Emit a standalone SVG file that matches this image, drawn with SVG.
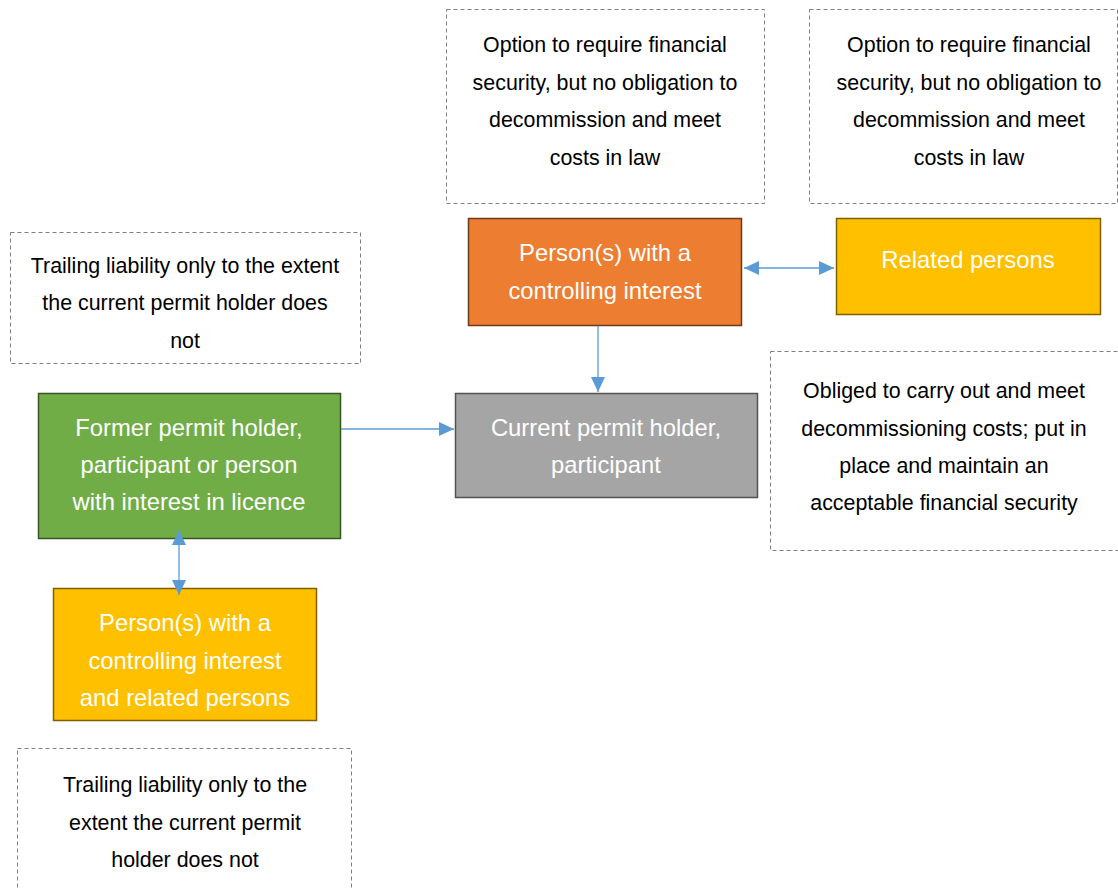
<svg xmlns="http://www.w3.org/2000/svg" width="1118" height="889" viewBox="0 0 1118 889">
  <style>
    .note { fill: #ffffff; stroke: #7f7f7f; stroke-width: 1; stroke-dasharray: 4 3; }
    .ntext { font-family: "Liberation Sans", Arial, sans-serif; font-size: 21.4px; fill: #000000; text-anchor: middle; }
    .btext { font-family: "Liberation Sans", Arial, sans-serif; font-size: 23.8px; fill: #ffffff; text-anchor: middle; }
    .conn { stroke: #5b9bd5; stroke-width: 1.3; fill: none; }
  </style>
  <defs>
    <marker id="arrow" markerUnits="userSpaceOnUse" markerWidth="16" markerHeight="14" refX="15" refY="7" orient="auto-start-reverse">
      <path d="M0,0 L15,7 L0,14 Z" fill="#5b9bd5"/>
    </marker>
  </defs>
  <rect width="1118" height="889" fill="#ffffff"/>

  <g id="note-option-1">
    <rect class="note" x="446.5" y="9.5" width="318" height="194"/>
    <text class="ntext" x="605" y="52">Option to require financial</text>
    <text class="ntext" x="605" y="90">security, but no obligation to</text>
    <text class="ntext" x="605" y="127">decommission and meet</text>
    <text class="ntext" x="605" y="165">costs in law</text>
  </g>

  <g id="note-option-2">
    <rect class="note" x="809.5" y="9.5" width="308" height="194"/>
    <text class="ntext" x="969" y="52">Option to require financial</text>
    <text class="ntext" x="969" y="90">security, but no obligation to</text>
    <text class="ntext" x="969" y="127">decommission and meet</text>
    <text class="ntext" x="969" y="165">costs in law</text>
  </g>

  <g id="controlling-interest">
    <rect x="468.5" y="218.5" width="273" height="107" fill="#ed7d31" stroke="#6b3a1c" stroke-width="1.5"/>
    <text class="btext" x="605" y="261">Person(s) with a</text>
    <text class="btext" x="605" y="299">controlling interest</text>
  </g>

  <g id="related-persons">
    <rect x="836.5" y="218.5" width="264" height="96" fill="#ffc000" stroke="#7f6000" stroke-width="1.5"/>
    <text class="btext" x="968" y="268">Related persons</text>
  </g>

  <g id="note-trailing-1">
    <rect class="note" x="10.5" y="232.5" width="350" height="131"/>
    <text class="ntext" x="185" y="273">Trailing liability only to the extent</text>
    <text class="ntext" x="185" y="310">the current permit holder does</text>
    <text class="ntext" x="185" y="348">not</text>
  </g>

  <g id="former-permit-holder">
    <rect x="38.5" y="393.5" width="302" height="145" fill="#70ad47" stroke="#375623" stroke-width="1.5"/>
    <text class="btext" x="189" y="436">Former permit holder,</text>
    <text class="btext" x="189" y="473">participant or person</text>
    <text class="btext" x="189" y="510">with interest in licence</text>
  </g>

  <g id="current-permit-holder">
    <rect x="455.5" y="393.5" width="302" height="104" fill="#a5a5a5" stroke="#525252" stroke-width="1.5"/>
    <text class="btext" x="606" y="436">Current permit holder,</text>
    <text class="btext" x="606" y="473">participant</text>
  </g>

  <g id="note-obliged">
    <rect class="note" x="770.5" y="351.5" width="348" height="199"/>
    <text class="ntext" x="944" y="398">Obliged to carry out and meet</text>
    <text class="ntext" x="944" y="436">decommissioning costs; put in</text>
    <text class="ntext" x="944" y="473">place and maintain an</text>
    <text class="ntext" x="944" y="510">acceptable financial security</text>
  </g>

  <g id="former-controlling-related">
    <rect x="53.5" y="588.5" width="263" height="132" fill="#ffc000" stroke="#7f6000" stroke-width="1.5"/>
    <text class="btext" x="185" y="631">Person(s) with a</text>
    <text class="btext" x="185" y="669">controlling interest</text>
    <text class="btext" x="185" y="706">and related persons</text>
  </g>

  <g id="note-trailing-2">
    <rect class="note" x="17.5" y="748.5" width="334" height="145"/>
    <text class="ntext" x="185" y="792">Trailing liability only to the</text>
    <text class="ntext" x="185" y="830">extent the current permit</text>
    <text class="ntext" x="185" y="867">holder does not</text>
  </g>

  <g id="connectors">
    <line class="conn" x1="744" y1="268" x2="834" y2="268" marker-start="url(#arrow)" marker-end="url(#arrow)"/>
    <line class="conn" x1="598" y1="326" x2="598" y2="392" marker-end="url(#arrow)"/>
    <line class="conn" x1="341" y1="429" x2="454" y2="429" marker-end="url(#arrow)"/>
    <line class="conn" x1="179" y1="530" x2="179" y2="595" marker-start="url(#arrow)" marker-end="url(#arrow)"/>
  </g>
</svg>
